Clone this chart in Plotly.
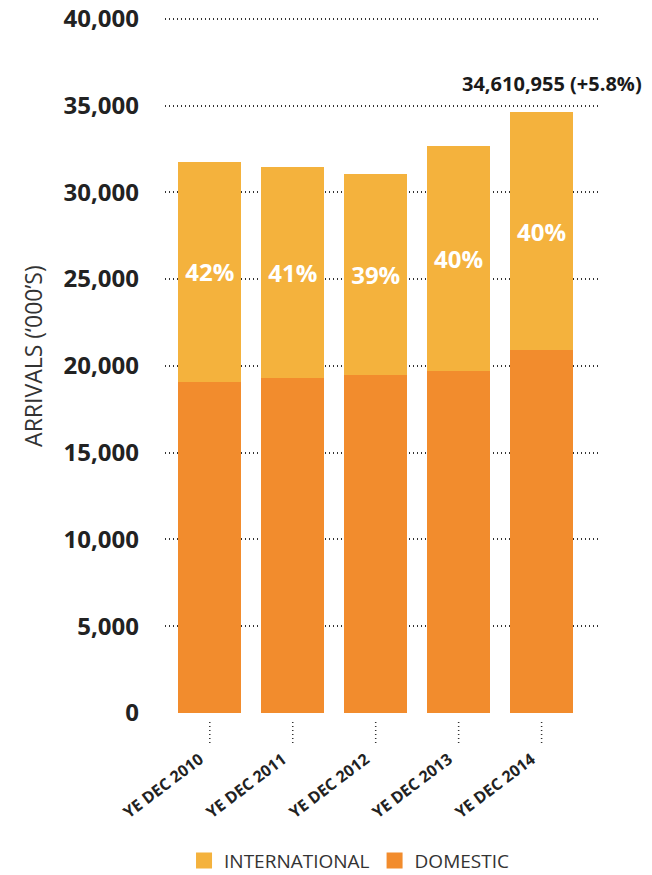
import plotly.graph_objects as go

categories = ["YE DEC 2010", "YE DEC 2011", "YE DEC 2012", "YE DEC 2013", "YE DEC 2014"]
domestic = [19080, 19310, 19480, 19710, 20920]
international = [12680, 12160, 11590, 12970, 13691]
intl_share_labels = ["42%", "41%", "39%", "40%", "40%"]
total_label = "34,610,955 (+5.8%)"
y_ticks = [0, 5000, 10000, 15000, 20000, 25000, 30000, 35000, 40000]

C_DOM = "#F28C2D"
C_INT = "#F4B23D"
FONT = "Open Sans"

fig = go.Figure()
fig.add_trace(go.Bar(x=categories, y=domestic, marker=dict(color=C_DOM, line=dict(width=0)),
                     showlegend=False, hoverinfo="skip"))
fig.add_trace(go.Bar(x=categories, y=international, marker=dict(color=C_INT, line=dict(width=0)),
                     text=intl_share_labels, textposition="inside", insidetextanchor="middle",
                     textangle=0,
                     textfont=dict(color="white", size=24, family=FONT, weight="bold"),
                     showlegend=False, hoverinfo="skip"))
# legend proxies
fig.add_trace(go.Scatter(x=[None], y=[None], mode="markers", name="INTERNATIONAL",
                         marker=dict(symbol="square", size=16, color=C_INT)))
fig.add_trace(go.Scatter(x=[None], y=[None], mode="markers", name="DOMESTIC",
                         marker=dict(symbol="square", size=16, color=C_DOM)))

totals = [d + i for d, i in zip(domestic, international)]

fig.add_annotation(x=categories[-1], y=totals[-1], text=total_label, showarrow=False,
                   xanchor="center", yanchor="bottom", xshift=10, yshift=13,
                   font=dict(size=20, family=FONT, color="#1a1a1a", weight="bold"))

fig.add_annotation(xref="paper", yref="paper", x=-0.305, y=0.513, text="ARRIVALS (‘000’S)",
                   textangle=-90, showarrow=False, xanchor="center", yanchor="middle",
                   font=dict(size=23, family=FONT, color="#333333"))

# dotted tick stubs below the axis
for c in categories:
    fig.add_shape(type="line", xref="x", yref="paper", x0=c, x1=c, y0=-0.013, y1=-0.045,
                  line=dict(color="#333333", width=1.5, dash="1px,3px"))

fig.update_layout(
    width=652, height=875,
    margin=dict(l=165, r=54, t=17, b=162, autoexpand=False),
    barmode="stack", bargap=0.24,
    plot_bgcolor="white", paper_bgcolor="white",
    font=dict(family=FONT, color="#222222"),
    legend=dict(orientation="h", x=0.425, y=-0.212, xanchor="center", yanchor="middle",
                font=dict(size=19, family=FONT, color="#333333"), itemwidth=30,
                traceorder="normal"),
    xaxis=dict(range=[-0.54, 4.68], showgrid=False, zeroline=False, showline=False,
               automargin=False,
               ticks="outside", ticklen=30, tickcolor="rgba(0,0,0,0)", tickangle=-37,
               ticklabelshift=-10, ticklabeloverflow="allow",
               tickfont=dict(size=16, family=FONT, color="#222222", weight="bold")),
    yaxis=dict(range=[0, 40100], tickvals=y_ticks, tickformat=",", showgrid=True,
               automargin=False, ticklabeloverflow="allow",
               gridcolor="#333333", gridwidth=1.5, griddash="1px,3px", zeroline=False,
               showline=False, ticks="", ticklabelstandoff=25,
               tickfont=dict(size=24, family=FONT, color="#222222", weight="bold")),
)

fig.write_html("out.html", config={"displayModeBar": False},
               post_script="document.body.style.margin='0';")
